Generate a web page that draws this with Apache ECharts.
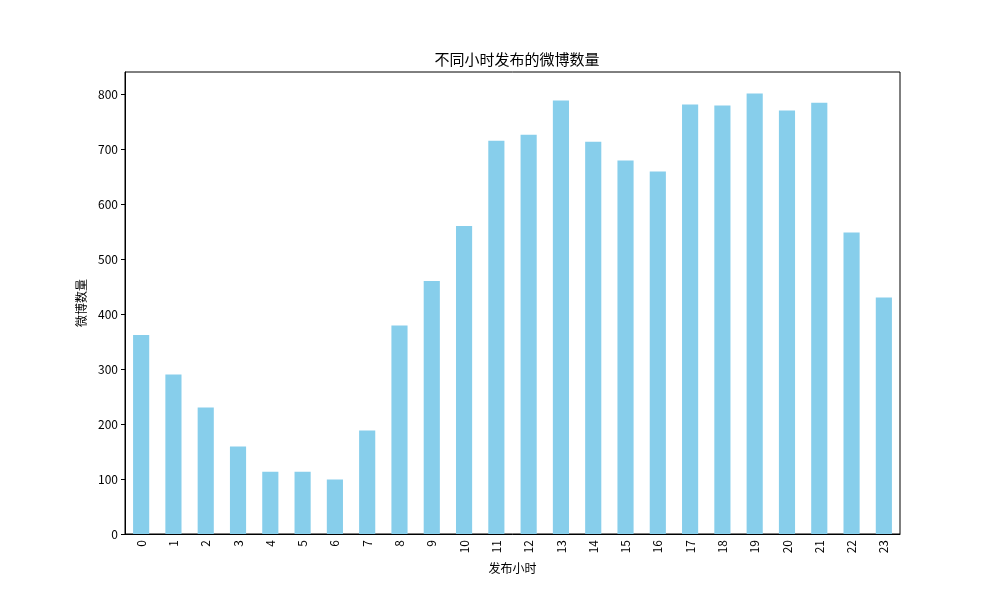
<!DOCTYPE html>
<html>
<head>
<meta charset="utf-8">
<script src="https://cdn.jsdelivr.net/npm/echarts@6/dist/echarts.min.js"></script>
<style>html,body{margin:0;padding:0;background:#fff;}#c{width:1000px;height:600px;}</style>
</head>
<body>
<div id="c"></div>
<script>
const hours = ['0','1','2','3','4','5','6','7','8','9','10','11','12','13','14','15','16','17','18','19','20','21','22','23'];
const counts = [362, 290, 230, 159, 113, 113, 99, 188, 379, 460, 560, 715, 726, 788, 713, 679, 659, 781, 779, 801, 770, 784, 548, 430];
const yTicks = [0, 100, 200, 300, 400, 500, 600, 700, 800];
const titleText = '不同小时发布的微博数量';
const xName = '发布小时';
const yName = '微博数量';

const FONT = '"Noto Sans CJK SC", "DejaVu Sans", sans-serif';
const chart = echarts.init(document.getElementById('c'), null, {renderer: 'canvas'});
chart.setOption({
  animation: false,
  backgroundColor: '#fff',
  title: {
    text: titleText,
    left: 512, top: 47, textAlign: 'center',
    textStyle: {fontFamily: FONT, fontSize: 15, fontWeight: 'normal', color: '#000'}
  },
  grid: {left: 125, right: 100, top: 72, bottom: 66, show: true, borderColor: '#000', borderWidth: 1, backgroundColor: 'transparent'},
  xAxis: {
    type: 'category',
    data: hours,
    boundaryGap: true,
    name: xName, nameLocation: 'middle', nameGap: 28,
    nameTextStyle: {fontFamily: FONT, fontSize: 12, color: '#000'},
    axisLine: {lineStyle: {color: '#000', width: 1}},
    axisTick: {alignWithLabel: true, length: 4, lineStyle: {color: '#000'}},
    axisLabel: {rotate: 90, interval: 0, fontFamily: FONT, fontSize: 12, color: '#000', margin: 6}
  },
  yAxis: {
    type: 'value',
    min: 0, max: 840, interval: 100,
    name: yName, nameLocation: 'middle', nameGap: 36, nameRotate: 90,
    nameTextStyle: {fontFamily: FONT, fontSize: 12, color: '#000'},
    axisLine: {show: true, lineStyle: {color: '#000', width: 1}},
    axisTick: {show: true, length: 4, lineStyle: {color: '#000'}, customValues: yTicks},
    axisLabel: {fontFamily: FONT, fontSize: 12, color: '#000', margin: 7, customValues: yTicks},
    splitLine: {show: false}
  },
  series: [{
    type: 'bar',
    data: counts,
    barWidth: '50%',
    itemStyle: {color: '#87CEEB'}
  }]
});
</script>
</body>
</html>
